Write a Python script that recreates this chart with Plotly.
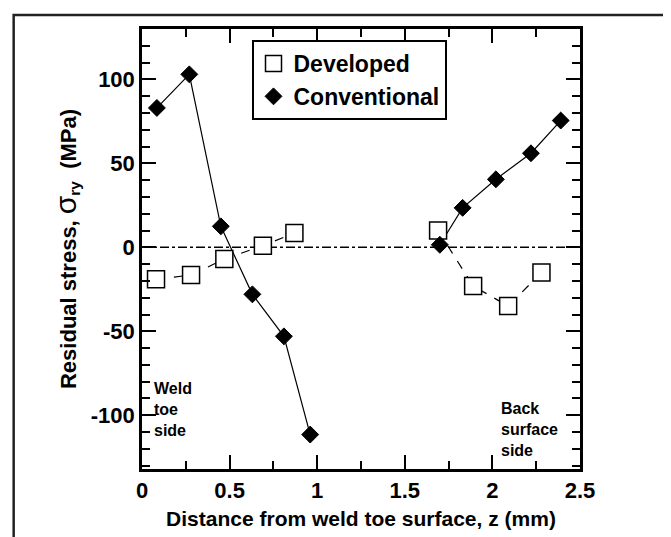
import plotly.graph_objects as go

# ---- data ----
dev_x = [0.08, 0.28, 0.47, 0.69, 0.87, None, 1.69, 1.89, 2.09, 2.28]
dev_y = [-19, -16.5, -7, 1, 8.5, None, 10, -23, -35, -15]
conv_x = [0.085, 0.27, 0.45, 0.63, 0.81, 0.96, None, 1.70, 1.83, 2.02, 2.22, 2.39]
conv_y = [83, 103, 12.5, -28, -53, -111.5, None, 1.5, 23.5, 40.5, 56, 75.5]

x_range = [0, 2.5]
y_range = [-132, 130]
y_tick_vals = [-100, -50, 0, 50, 100]
y_tick_text = ["-100", "-50", "0", "50", "100"]

FONT = "Liberation Sans"

fig = go.Figure()

# connecting lines
fig.add_trace(go.Scatter(x=conv_x, y=conv_y, mode="lines",
                         line=dict(color="black", width=1.2),
                         showlegend=False, hoverinfo="skip"))
fig.add_trace(go.Scatter(x=dev_x, y=dev_y, mode="lines",
                         line=dict(color="black", width=1.2, dash="dash"),
                         showlegend=False, hoverinfo="skip"))
# markers (legend entries)
fig.add_trace(go.Scatter(x=dev_x, y=dev_y, mode="markers", name="Developed",
                         marker=dict(symbol="square", size=17, color="white",
                                     line=dict(color="black", width=1.5))))
fig.add_trace(go.Scatter(x=conv_x, y=conv_y, mode="markers", name="Conventional",
                         marker=dict(symbol="diamond", size=13, color="black",
                                     line=dict(color="black", width=1))))

axis_common = dict(
    showline=True, linecolor="black", linewidth=2.5, mirror="allticks",
    ticks="inside", tickcolor="black", tickwidth=1.5,
    showgrid=False, zeroline=False,
    tickfont=dict(family=FONT, size=22, color="black", weight="bold"),
)

fig.update_xaxes(range=x_range, dtick=0.5, tick0=0, ticklen=14,
                 minor=dict(dtick=0.25, ticklen=8, ticks="inside", tickcolor="black", tickwidth=1.5),
                 title=dict(text="Distance from weld toe surface, z (mm)",
                            font=dict(family=FONT, size=21, color="black", weight="bold"),
                            standoff=10),
                 **axis_common)
fig.update_yaxes(range=y_range, tickmode="array", tickvals=y_tick_vals, ticktext=y_tick_text,
                 ticklen=14,
                 minor=dict(tickmode="linear", tick0=0, dtick=10, ticklen=8, ticks="inside",
                            tickcolor="black", tickwidth=1.5),
                 title=dict(text="Residual stress, <span style='font-size:30px;font-weight:normal'>σ</span><sub>ry</sub>  (MPa)",
                            font=dict(family=FONT, size=22, color="black", weight="bold"),
                            standoff=9),
                 **axis_common)

# zero reference line (dash-dot)
fig.add_shape(type="line", xref="paper", yref="y", x0=0, x1=1, y0=0, y1=0,
              line=dict(color="black", width=1.5, dash="dashdot"), layer="below")

# outer frame
fig.add_shape(type="rect", xref="paper", yref="paper",
              x0=-0.293, x1=1.206, y0=-0.2, y1=1.032,
              line=dict(color="#222", width=2.5), fillcolor="rgba(0,0,0,0)")

fig.add_annotation(text="Weld<br>toe<br>side", xref="x", yref="y", x=0.055, y=-78,
                   xanchor="left", yanchor="top", showarrow=False, align="left",
                   font=dict(family=FONT, size=16, color="black", weight="bold"))
fig.add_annotation(text="Back<br>surface<br>side", xref="x", yref="y", x=2.04, y=-90,
                   xanchor="left", yanchor="top", showarrow=False, align="left",
                   font=dict(family=FONT, size=16, color="black", weight="bold"))

fig.update_layout(
    width=671, height=537,
    margin=dict(l=134, r=99, t=21, b=76),
    paper_bgcolor="white", plot_bgcolor="white",
    legend=dict(x=0.25, y=0.975, xanchor="left", yanchor="top",
                bordercolor="black", borderwidth=2, bgcolor="white",
                font=dict(family=FONT, size=23, color="black", weight="bold"),
                tracegroupgap=0, itemwidth=30),
    showlegend=True,
)

fig.write_html("out.html")
